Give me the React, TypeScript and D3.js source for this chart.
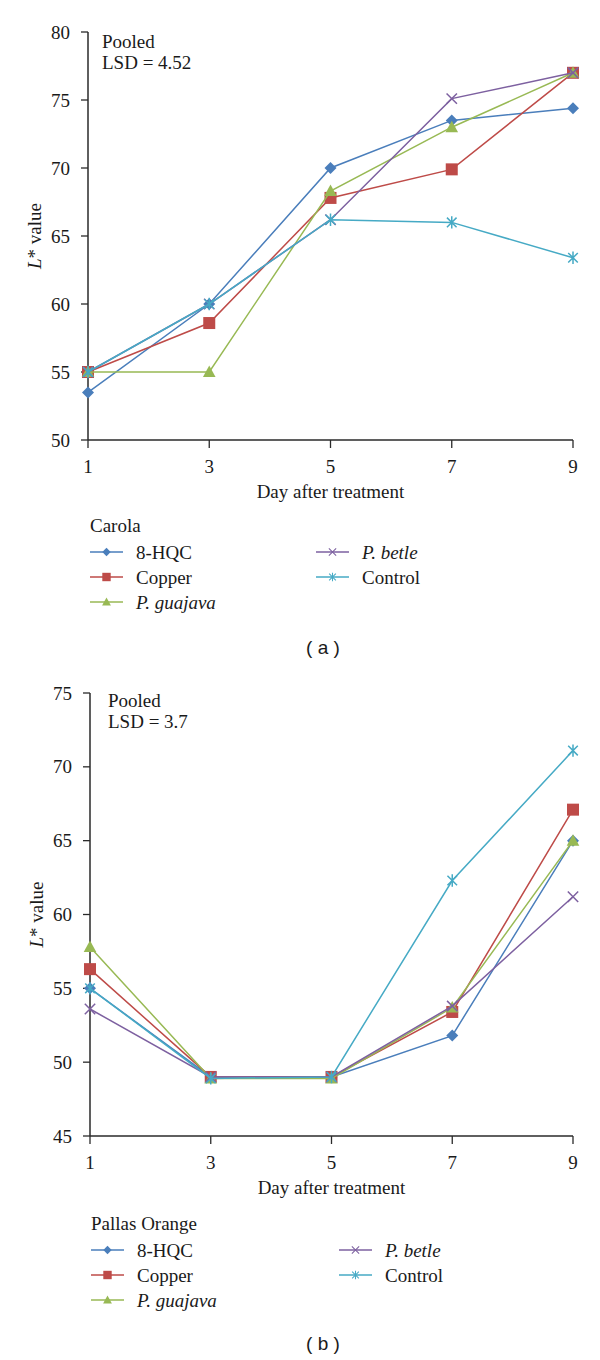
import React from "react";
import * as d3 from "d3";

const days = [1, 3, 5, 7, 9];
const seriesNames = ["8-HQC", "Copper", "P. guajava", "P. betle", "Control"];
const seriesItalic = [false, false, true, true, false];
const seriesColors = ["#4A7EBB", "#BE4B48", "#98B954", "#7D60A0", "#46AAC5"];
const seriesMarkers = ["diamond", "square", "triangle", "x", "star"];

// Panel (a) Carola
const carolaHQC = [53.5, 60.0, 70.0, 73.5, 74.4];
const carolaCopper = [55.0, 58.6, 67.8, 69.9, 77.0];
const carolaGuajava = [55.0, 55.0, 68.3, 73.0, 77.0];
const carolaBetle = [55.0, 60.0, 66.2, 75.1, 77.0];
const carolaControl = [55.0, 60.0, 66.2, 66.0, 63.4];
const carolaTicks = [50, 55, 60, 65, 70, 75, 80];

// Panel (b) Pallas Orange
const pallasHQC = [55.0, 49.0, 49.0, 51.8, 65.0];
const pallasCopper = [56.3, 49.0, 49.0, 53.4, 67.1];
const pallasGuajava = [57.8, 48.9, 48.9, 53.7, 65.0];
const pallasBetle = [53.6, 49.0, 49.0, 53.8, 61.2];
const pallasControl = [55.0, 48.9, 49.0, 62.3, 71.1];
const pallasTicks = [45, 50, 55, 60, 65, 70, 75];

const FONT = "'Liberation Serif', 'DejaVu Serif', 'Times New Roman', serif";
const SANS = "'Liberation Sans', Arial, sans-serif";
const FS = 19;
const AXIS = "#2a2a2a";
const TXT = "#1a1a1a";

function Marker({ type, x, y, color }: { type: string; x: number; y: number; color: string }) {
  if (type === "diamond") {
    const r = 6;
    return <path d={`M${x},${y - r}L${x + r},${y}L${x},${y + r}L${x - r},${y}Z`} fill={color} />;
  }
  if (type === "square") {
    const r = 6;
    return <rect x={x - r} y={y - r} width={2 * r} height={2 * r} fill={color} />;
  }
  if (type === "triangle") {
    return <path d={`M${x},${y - 6.5}L${x + 6.3},${y + 5}L${x - 6.3},${y + 5}Z`} fill={color} />;
  }
  if (type === "x") {
    const r = 5.2;
    return (
      <path d={`M${x - r},${y - r}L${x + r},${y + r}M${x - r},${y + r}L${x + r},${y - r}`} stroke={color} strokeWidth={1.5} fill="none" />
    );
  }
  const r = 4.8;
  return (
    <path
      d={`M${x - r},${y - r}L${x + r},${y + r}M${x - r},${y + r}L${x + r},${y - r}M${x},${y - 6.2}L${x},${y + 6.2}`}
      stroke={color}
      strokeWidth={1.5}
      fill="none"
    />
  );
}

type PanelProps = {
  series: number[][];
  ticks: number[];
  x0: number;
  x1: number;
  yTop: number;
  yBottom: number;
  lsd: string;
  pooledX: number;
  pooledY: number;
  legendTitle: string;
  legendTitleY: number;
  legendX: number;
  legendX2: number;
  caption: string;
  captionY: number;
};

function Panel(p: PanelProps) {
  const x = d3.scaleLinear().domain([1, 9]).range([p.x0, p.x1]);
  const y = d3.scaleLinear().domain([p.ticks[0], p.ticks[p.ticks.length - 1]]).range([p.yBottom, p.yTop]);
  const line = d3
    .line<number>()
    .x((_, i) => x(days[i]))
    .y((v) => y(v));
  const midY = (p.yTop + p.yBottom) / 2;
  const rowH = 25;
  return (
    <g>
      {/* axes */}
      <line x1={p.x0} x2={p.x0} y1={p.yTop} y2={p.yBottom} stroke={AXIS} strokeWidth={1.5} />
      <line x1={p.x0} x2={p.x1} y1={p.yBottom} y2={p.yBottom} stroke={AXIS} strokeWidth={1.5} />
      {p.ticks.map((t) => (
        <g key={"yt" + t}>
          <line x1={p.x0 - 7} x2={p.x0} y1={y(t)} y2={y(t)} stroke={AXIS} strokeWidth={1.3} />
          <text x={p.x0 - 18} y={y(t) + 6.5} textAnchor="end" fontSize={FS} fontFamily={FONT} fill={TXT}>
            {t}
          </text>
        </g>
      ))}
      {days.map((d) => (
        <g key={"xt" + d}>
          <line x1={x(d)} x2={x(d)} y1={p.yBottom} y2={p.yBottom + 8} stroke={AXIS} strokeWidth={1.3} />
          <text x={x(d)} y={p.yBottom + 33} textAnchor="middle" fontSize={FS} fontFamily={FONT} fill={TXT}>
            {d}
          </text>
        </g>
      ))}
      <text x={(p.x0 + p.x1) / 2} y={p.yBottom + 58} textAnchor="middle" fontSize={FS} fontFamily={FONT} fill={TXT}>
        Day after treatment
      </text>
      <text
        transform={`translate(${p.x0 - 47},${midY}) rotate(-90)`}
        textAnchor="middle"
        fontSize={FS}
        fontFamily={FONT}
        fill={TXT}
      >
        <tspan fontStyle="italic">L</tspan>
        <tspan>* value</tspan>
      </text>
      <text x={p.pooledX} y={p.pooledY} fontSize={FS} fontFamily={FONT} fill={TXT}>
        Pooled
      </text>
      <text x={p.pooledX} y={p.pooledY + 21} fontSize={FS} fontFamily={FONT} fill={TXT}>
        {"LSD = " + p.lsd}
      </text>
      {/* series */}
      {p.series.map((vals, si) => (
        <g key={"s" + si}>
          <path d={line(vals) || ""} fill="none" stroke={seriesColors[si]} strokeWidth={1.5} />
          {vals.map((v, i) => (
            <Marker key={i} type={seriesMarkers[si]} x={x(days[i])} y={y(v)} color={seriesColors[si]} />
          ))}
        </g>
      ))}
      {/* legend */}
      <text x={p.legendX} y={p.legendTitleY} fontSize={FS} fontFamily={FONT} fill={TXT}>
        {p.legendTitle}
      </text>
      {seriesNames.map((name, si) => {
        const col = si < 3 ? 0 : 1;
        const row = si < 3 ? si : si - 3;
        const lx = col === 0 ? p.legendX : p.legendX2;
        const ly = p.legendTitleY + 20 + row * rowH;
        return (
          <g key={"l" + si}>
            <line x1={lx} x2={lx + 33} y1={ly} y2={ly} stroke={seriesColors[si]} strokeWidth={1.5} />
            <g transform={`translate(${lx + 16.5},${ly}) scale(0.7) translate(${-(lx + 16.5)},${-ly})`}>
              <Marker type={seriesMarkers[si]} x={lx + 16.5} y={ly} color={seriesColors[si]} />
            </g>
            <text
              x={lx + 46}
              y={ly + 6.5}
              fontSize={FS}
              fontFamily={FONT}
              fontStyle={seriesItalic[si] ? "italic" : "normal"}
              fill={TXT}
            >
              {name}
            </text>
          </g>
        );
      })}
      <text x={323} y={p.captionY + 7} textAnchor="middle" fontSize={19} fontFamily={SANS} fill={TXT}>
        {p.caption}
      </text>
    </g>
  );
}

export default function App() {
  return (
    <svg
      width={600}
      height={1360}
      style={{ position: "absolute", left: 0, top: 0, background: "#fff" }}
      xmlns="http://www.w3.org/2000/svg"
    >
      <rect width={600} height={1360} fill="#fff" />
      <Panel
        series={[carolaHQC, carolaCopper, carolaGuajava, carolaBetle, carolaControl]}
        ticks={carolaTicks}
        x0={88}
        x1={573}
        yTop={32}
        yBottom={440}
        lsd="4.52"
        pooledX={102}
        pooledY={48}
        legendTitle="Carola"
        legendTitleY={532}
        legendX={90}
        legendX2={316}
        caption="( a )"
        captionY={647}
      />
      <Panel
        series={[pallasHQC, pallasCopper, pallasGuajava, pallasBetle, pallasControl]}
        ticks={pallasTicks}
        x0={90}
        x1={573}
        yTop={693}
        yBottom={1136}
        lsd="3.7"
        pooledX={108}
        pooledY={707}
        legendTitle="Pallas Orange"
        legendTitleY={1230}
        legendX={91}
        legendX2={339}
        caption="( b )"
        captionY={1343}
      />
    </svg>
  );
}
